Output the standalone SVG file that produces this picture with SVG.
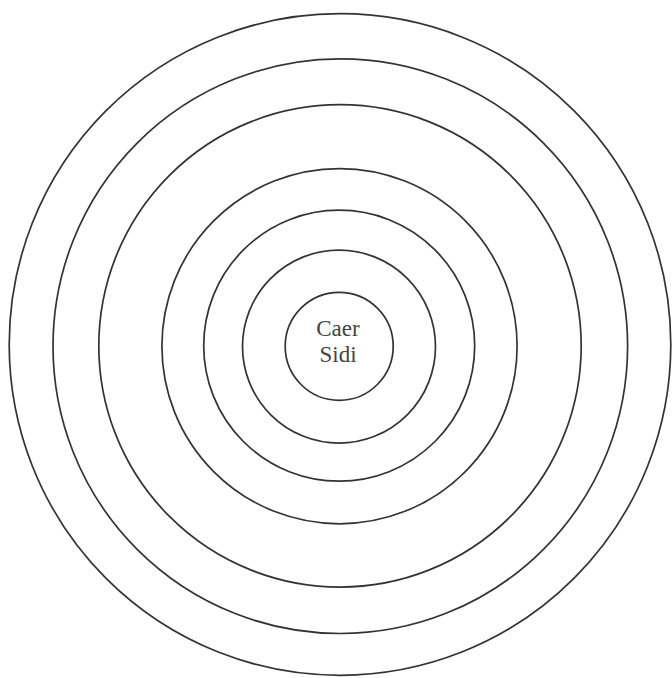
<svg xmlns="http://www.w3.org/2000/svg" width="672" height="678" viewBox="0 0 672 678">
  <style>
    .ring { fill: none; stroke: #333333; stroke-width: 1.7; }
    .label { font-family: "Liberation Serif", "DejaVu Serif", serif; font-size: 23px; fill: #444444; text-anchor: middle; }
  </style>
  <rect x="0" y="0" width="672" height="678" fill="#ffffff"/>
  <g id="rings">
    <circle id="ring7" class="ring" cx="340" cy="344.5" r="330.8"/>
    <circle id="ring6" class="ring" cx="340.3" cy="346.2" r="287.3"/>
    <circle id="ring5" class="ring" cx="340" cy="345.9" r="241.2"/>
    <circle id="ring4" class="ring" cx="339.5" cy="346.2" r="177.6"/>
    <circle id="ring3" class="ring" cx="339.2" cy="345.7" r="135.5"/>
    <circle id="ring2" class="ring" cx="339" cy="346.6" r="96.5"/>
  </g>
  <g id="caer-sidi">
    <circle class="ring" cx="339.2" cy="346.3" r="54"/>
    <text class="label" x="338" y="335.5">Caer</text>
    <text class="label" x="338" y="362">Sidi</text>
  </g>
</svg>
